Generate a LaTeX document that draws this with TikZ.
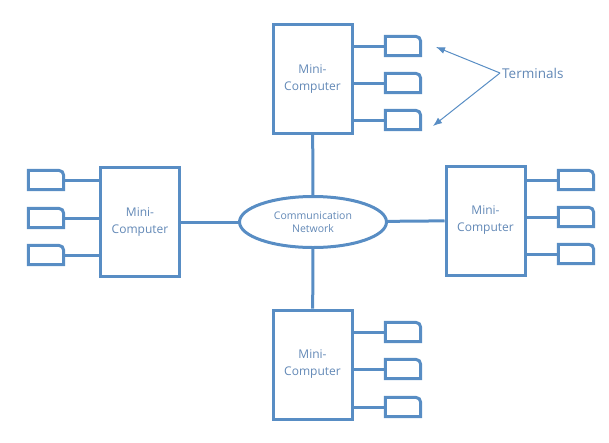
\documentclass[tikz,border=0pt]{standalone}
\usepackage{fontspec}
\setmainfont{Open Sans}
\usetikzlibrary{shapes.geometric,arrows.meta}
\definecolor{netblue}{RGB}{88,141,196}
\definecolor{labelblue}{RGB}{98,136,182}
\begin{document}
\begin{tikzpicture}[x=1pt,y=-1pt]
	\tikzstyle{MC}=[rectangle,draw=netblue,line width=3pt,minimum width=79pt,minimum height=109pt,text=labelblue,font=\fontsize{12}{17}\selectfont,align=center,inner sep=0pt]
	\tikzstyle{NET}=[ellipse,draw=netblue,line width=3pt,minimum width=147pt,minimum height=51pt,text=labelblue,font=\fontsize{10.5}{13.5}\selectfont,align=center,inner sep=0pt]
	\tikzstyle{TM}=[rectangle,minimum width=35pt,minimum height=19pt,inner sep=0pt]
	\tikzstyle{link}=[draw=netblue,line width=3pt]
	\tikzstyle{pointer}=[draw=netblue,line width=1pt,-{Latex[length=9pt,width=7pt]}]
	\useasboundingbox (0,0) rectangle (609,442);
	\begin{scope}
	\node[NET] (net) at (313,222) {Communication\\Network};
	\node[MC] (mc-top)    at (312.5,79)  {Mini-\\Computer};
	\node[MC] (mc-left)   at (140,222)   {Mini-\\Computer};
	\node[MC] (mc-right)  at (485.5,220.5) {Mini-\\Computer};
	\node[MC] (mc-bottom) at (312.5,364.5) {Mini-\\Computer};
	\node[TM] (t-top-1) at (403,46)  {};
	\node[TM] (t-top-2) at (403,83)  {};
	\node[TM] (t-top-3) at (403,120) {};
	\node[TM] (t-left-1) at (46,180)  {};
	\node[TM] (t-left-2) at (46,218)  {};
	\node[TM] (t-left-3) at (46,255)  {};
	\node[TM] (t-right-1) at (576,180) {};
	\node[TM] (t-right-2) at (576,217) {};
	\node[TM] (t-right-3) at (576,254) {};
	\node[TM] (t-bottom-1) at (403,332) {};
	\node[TM] (t-bottom-2) at (403,369) {};
	\node[TM] (t-bottom-3) at (403,407) {};
	\node[text=labelblue,font=\fontsize{13.5}{16}\selectfont,anchor=west,inner sep=2pt] (term) at (500,73) {Terminals};
	\end{scope}
	
	% terminal outlines, cut corner at top right
	\foreach \t in {t-top-1,t-top-2,t-top-3,t-left-1,t-left-2,t-left-3,t-right-1,t-right-2,t-right-3,t-bottom-1,t-bottom-2,t-bottom-3}
		\draw[link] (\t.south west) -- (\t.north west) -- ([xshift=-5pt]\t.north east) to[out=0,in=90] ([yshift=-5pt]\t.north east) -- (\t.south east) -- cycle;
	
	\path[link]
	(mc-top) edge (net)
	(mc-bottom) edge (net)
	(mc-left) edge (net)
	(mc-right) edge (net)
	(mc-top.east |- t-top-1) edge (t-top-1)
	(mc-top.east |- t-top-2) edge (t-top-2)
	(mc-top.east |- t-top-3) edge (t-top-3)
	(mc-bottom.east |- t-bottom-1) edge (t-bottom-1)
	(mc-bottom.east |- t-bottom-2) edge (t-bottom-2)
	(mc-bottom.east |- t-bottom-3) edge (t-bottom-3)
	(mc-left.west |- t-left-1) edge (t-left-1)
	(mc-left.west |- t-left-2) edge (t-left-2)
	(mc-left.west |- t-left-3) edge (t-left-3)
	(mc-right.east |- t-right-1) edge (t-right-1)
	(mc-right.east |- t-right-2) edge (t-right-2)
	(mc-right.east |- t-right-3) edge (t-right-3)
	;
	
	\coordinate (tip-1) at (436,47);
	\coordinate (tip-2) at (433,126);
	\draw[pointer] (term.west) -- (tip-1);
	\draw[pointer] (term.west) -- (tip-2);
\end{tikzpicture}
\end{document}
